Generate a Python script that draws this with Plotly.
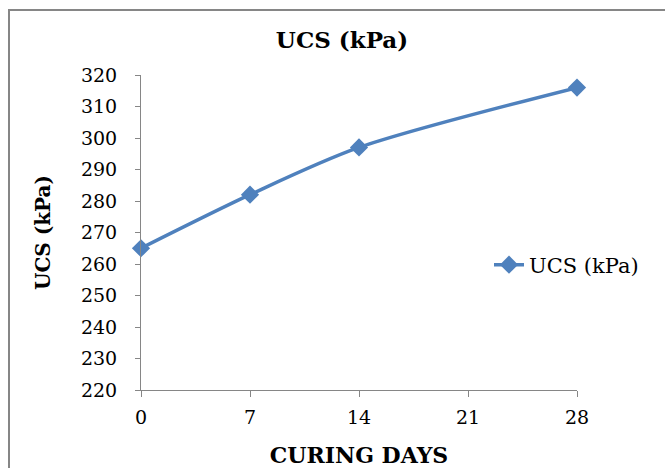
import plotly.graph_objects as go

days = [0, 7, 14, 28]
ucs = [265, 282, 297, 316]
x_ticks = [0, 7, 14, 21, 28]
y_ticks = list(range(220, 321, 10))

blue = "#4F81BD"
font = "DejaVu Serif"
axis_grey = "#868686"

fig = go.Figure()
fig.add_trace(go.Scatter(
    x=days, y=ucs, mode="lines+markers", name="UCS (kPa)",
    line=dict(color=blue, width=3.5, shape="spline", smoothing=0.8),
    marker=dict(symbol="diamond", size=14, color=blue),
    cliponaxis=False,
))

fig.update_layout(
    width=665, height=468,
    margin=dict(l=141, r=88, t=75, b=78),
    paper_bgcolor="white", plot_bgcolor="white",
    font=dict(family=font, size=19, color="black"),
    title=dict(text="<b>UCS (kPa)</b>", x=342/665, xref="container", xanchor="center",
               y=1 - 40/468, yref="container", yanchor="middle",
               font=dict(family=font, size=23, color="black")),
    showlegend=True,
    legend=dict(x=(489 - 141) / 436, xanchor="left", y=(390 - 265) / 315, yanchor="middle",
                font=dict(family=font, size=21, color="black"),
                bgcolor="rgba(0,0,0,0)"),
    xaxis=dict(range=[0, 28], tickvals=x_ticks, ticks="outside", ticklen=6,
               tickcolor=axis_grey, showline=True, linecolor=axis_grey, linewidth=1,
               showgrid=False, zeroline=False, ticklabelstandoff=4, automargin=False,
               title=dict(text="<b>CURING DAYS</b>", font=dict(family=font, size=22), standoff=20),
               tickfont=dict(family=font, size=19)),
    yaxis=dict(range=[220, 320], tickvals=y_ticks, ticks="outside", ticklen=5,
               tickcolor=axis_grey, showline=True, linecolor=axis_grey, linewidth=1,
               showgrid=False, zeroline=False, ticklabelstandoff=14, automargin=False,
               title=dict(text="<b>UCS (kPa)</b>", font=dict(family=font, size=20), standoff=24),
               tickfont=dict(family=font, size=19)),
)

# outer chart-area border
fig.add_shape(type="rect", xref="paper", yref="paper",
              x0=(9 - 141) / 436, x1=(700 - 141) / 436,
              y0=(390 - 500) / 315, y1=1 + (75 - 10) / 315,
              line=dict(color=axis_grey, width=2), layer="below")

fig.write_html("out.html")
